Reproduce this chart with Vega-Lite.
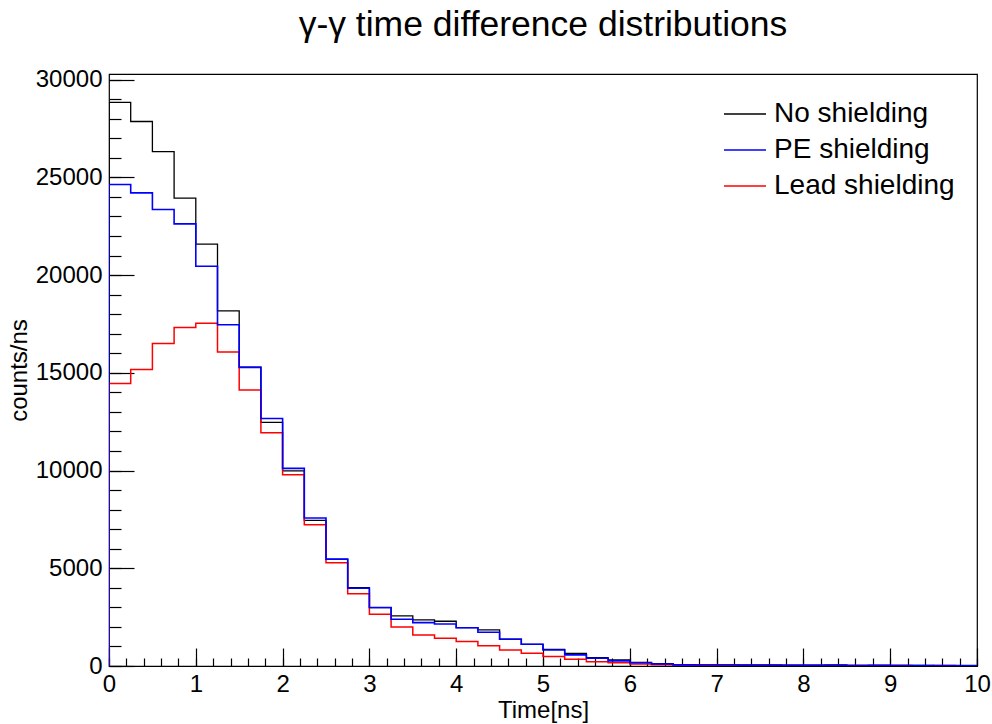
{
  "$schema": "https://vega.github.io/schema/vega-lite/v6.json",
  "width": 868,
  "height": 592,
  "autosize": {"type": "none"},
  "padding": {"left": 109, "top": 74, "right": 15, "bottom": 58},
  "background": "white",
  "title": {"text": "γ-γ time difference distributions", "font": "Liberation Sans", "fontSize": 35.5, "fontWeight": "normal", "color": "black", "anchor": "middle", "offset": 24},
  "config": {
    "view": {"stroke": "black", "strokeWidth": 1.2},
    "axis": {"grid": false, "domain": false, "labelFont": "Liberation Sans", "titleFont": "Liberation Sans", "labelColor": "black", "titleColor": "black", "tickColor": "black", "labelFontSize": 24, "titleFontSize": 24, "titleFontWeight": "normal", "tickWidth": 1.2},
    "legend": {"labelFont": "Liberation Sans", "labelFontSize": 28, "labelColor": "black", "labelLimit": 0}
  },
  "data": {"values": [
    {"i": 0, "x": 0, "No shielding": 0, "PE shielding": 0, "Lead shielding": 0},
    {"i": 1, "x": 0, "No shielding": 28840, "PE shielding": 24640, "Lead shielding": 14450},
    {"i": 2, "x": 0.25, "No shielding": 27860, "PE shielding": 24210, "Lead shielding": 15170},
    {"i": 3, "x": 0.5, "No shielding": 26320, "PE shielding": 23360, "Lead shielding": 16500},
    {"i": 4, "x": 0.75, "No shielding": 23940, "PE shielding": 22620, "Lead shielding": 17320},
    {"i": 5, "x": 1.0, "No shielding": 21590, "PE shielding": 20450, "Lead shielding": 17540},
    {"i": 6, "x": 1.25, "No shielding": 18170, "PE shielding": 17460, "Lead shielding": 16060},
    {"i": 7, "x": 1.5, "No shielding": 15290, "PE shielding": 15280, "Lead shielding": 14120},
    {"i": 8, "x": 1.75, "No shielding": 12470, "PE shielding": 12660, "Lead shielding": 11940},
    {"i": 9, "x": 2.0, "No shielding": 9980, "PE shielding": 10110, "Lead shielding": 9790},
    {"i": 10, "x": 2.25, "No shielding": 7450, "PE shielding": 7570, "Lead shielding": 7230},
    {"i": 11, "x": 2.5, "No shielding": 5460, "PE shielding": 5470, "Lead shielding": 5280},
    {"i": 12, "x": 2.75, "No shielding": 4010, "PE shielding": 3980, "Lead shielding": 3700},
    {"i": 13, "x": 3.0, "No shielding": 2990, "PE shielding": 2990, "Lead shielding": 2650},
    {"i": 14, "x": 3.25, "No shielding": 2560, "PE shielding": 2390, "Lead shielding": 2000},
    {"i": 15, "x": 3.5, "No shielding": 2360, "PE shielding": 2220, "Lead shielding": 1590},
    {"i": 16, "x": 3.75, "No shielding": 2290, "PE shielding": 2150, "Lead shielding": 1420},
    {"i": 17, "x": 4.0, "No shielding": 1960, "PE shielding": 1960, "Lead shielding": 1250},
    {"i": 18, "x": 4.25, "No shielding": 1850, "PE shielding": 1730, "Lead shielding": 1030},
    {"i": 19, "x": 4.5, "No shielding": 1370, "PE shielding": 1370, "Lead shielding": 820},
    {"i": 20, "x": 4.75, "No shielding": 1110, "PE shielding": 1110, "Lead shielding": 650},
    {"i": 21, "x": 5.0, "No shielding": 850, "PE shielding": 820, "Lead shielding": 480},
    {"i": 22, "x": 5.25, "No shielding": 650, "PE shielding": 570, "Lead shielding": 340},
    {"i": 23, "x": 5.5, "No shielding": 430, "PE shielding": 400, "Lead shielding": 220},
    {"i": 24, "x": 5.75, "No shielding": 310, "PE shielding": 260, "Lead shielding": 170},
    {"i": 25, "x": 6.0, "No shielding": 180, "PE shielding": 170, "Lead shielding": 100},
    {"i": 26, "x": 6.25, "No shielding": 120, "PE shielding": 100, "Lead shielding": 60},
    {"i": 27, "x": 6.5, "No shielding": 70, "PE shielding": 60, "Lead shielding": 40},
    {"i": 28, "x": 6.75, "No shielding": 60, "PE shielding": 50, "Lead shielding": 40},
    {"i": 29, "x": 7.0, "No shielding": 60, "PE shielding": 50, "Lead shielding": 30},
    {"i": 30, "x": 7.25, "No shielding": 50, "PE shielding": 40, "Lead shielding": 30},
    {"i": 31, "x": 7.5, "No shielding": 60, "PE shielding": 40, "Lead shielding": 30},
    {"i": 32, "x": 7.75, "No shielding": 40, "PE shielding": 30, "Lead shielding": 20},
    {"i": 33, "x": 8.0, "No shielding": 40, "PE shielding": 30, "Lead shielding": 30},
    {"i": 34, "x": 8.25, "No shielding": 50, "PE shielding": 30, "Lead shielding": 20},
    {"i": 35, "x": 8.5, "No shielding": 30, "PE shielding": 20, "Lead shielding": 20},
    {"i": 36, "x": 8.75, "No shielding": 30, "PE shielding": 30, "Lead shielding": 20},
    {"i": 37, "x": 9.0, "No shielding": 30, "PE shielding": 20, "Lead shielding": 20},
    {"i": 38, "x": 9.25, "No shielding": 30, "PE shielding": 20, "Lead shielding": 10},
    {"i": 39, "x": 9.5, "No shielding": 20, "PE shielding": 20, "Lead shielding": 20},
    {"i": 40, "x": 9.75, "No shielding": 20, "PE shielding": 20, "Lead shielding": 10},
    {"i": 41, "x": 10.0, "No shielding": 20, "PE shielding": 20, "Lead shielding": 10}
  ]},
  "transform": [
    {"fold": ["No shielding", "PE shielding", "Lead shielding"], "as": ["s", "v"]}
  ],
  "resolve": {"axis": {"x": "independent", "y": "independent"}},
  "layer": [
    {
      "transform": [{"filter": "datum.s === 'No shielding'"}],
      "mark": {"type": "line", "interpolate": "step-after", "strokeWidth": 1.3, "clip": true},
      "encoding": {
        "x": {"field": "x", "type": "quantitative", "scale": {"domain": [0, 10], "nice": false, "zero": false},
          "axis": {"orient": "bottom", "title": "Time[ns]", "values": [0,1,2,3,4,5,6,7,8,9,10], "ticks": false, "labelPadding": 6, "titlePadding": 2, "labelFlush": false, "labelOverlap": false}},
        "y": {"field": "v", "type": "quantitative", "scale": {"domain": [0, 30290], "nice": false},
          "axis": {"orient": "left", "title": "counts/ns", "values": [0,5000,10000,15000,20000,25000,30000], "ticks": false, "labelPadding": 7, "titlePadding": 4, "labelOverlap": false, "format": "d"}},
        "color": {"field": "s", "type": "nominal", "scale": {"domain": ["No shielding", "PE shielding", "Lead shielding"], "range": ["#000000", "#0000ff", "#ff0000"]},
          "legend": {"title": null, "orient": "none", "legendX": 614, "legendY": 18, "symbolType": "stroke", "symbolSize": 1764, "symbolStrokeWidth": 1.5, "labelOffset": 7, "rowPadding": -6}},
        "order": {"field": "i", "type": "quantitative"}
      }
    },
    {
      "transform": [{"filter": "datum.s === 'Lead shielding'"}],
      "mark": {"type": "line", "interpolate": "step-after", "strokeWidth": 1.5, "clip": true},
      "encoding": {
        "x": {"field": "x", "type": "quantitative",
          "axis": {"orient": "bottom", "title": null, "labels": false, "values": [0,1,2,3,4,5,6,7,8,9,10], "tickSize": 18, "offset": -18}},
        "y": {"field": "v", "type": "quantitative",
          "axis": {"orient": "left", "title": null, "labels": false, "values": [0,5000,10000,15000,20000,25000,30000], "tickSize": 25, "offset": -25}},
        "color": {"field": "s", "type": "nominal"},
        "order": {"field": "i", "type": "quantitative"}
      }
    },
    {
      "transform": [{"filter": "datum.s === 'PE shielding'"}],
      "mark": {"type": "line", "interpolate": "step-after", "strokeWidth": 1.6, "clip": true},
      "encoding": {
        "x": {"field": "x", "type": "quantitative",
          "axis": {"orient": "bottom", "title": null, "labels": false, "values": [0,0.2,0.4,0.6,0.8,1,1.2,1.4,1.6,1.8,2,2.2,2.4,2.6,2.8,3,3.2,3.4,3.6,3.8,4,4.2,4.4,4.6,4.8,5,5.2,5.4,5.6,5.8,6,6.2,6.4,6.6,6.8,7,7.2,7.4,7.6,7.8,8,8.2,8.4,8.6,8.8,9,9.2,9.4,9.6,9.8,10], "tickSize": 8, "offset": -8}},
        "y": {"field": "v", "type": "quantitative",
          "axis": {"orient": "left", "title": null, "labels": false, "values": [0,1000,2000,3000,4000,5000,6000,7000,8000,9000,10000,11000,12000,13000,14000,15000,16000,17000,18000,19000,20000,21000,22000,23000,24000,25000,26000,27000,28000,29000,30000], "tickSize": 12, "offset": -12}},
        "color": {"field": "s", "type": "nominal"},
        "order": {"field": "i", "type": "quantitative"}
      }
    }
  ]
}
